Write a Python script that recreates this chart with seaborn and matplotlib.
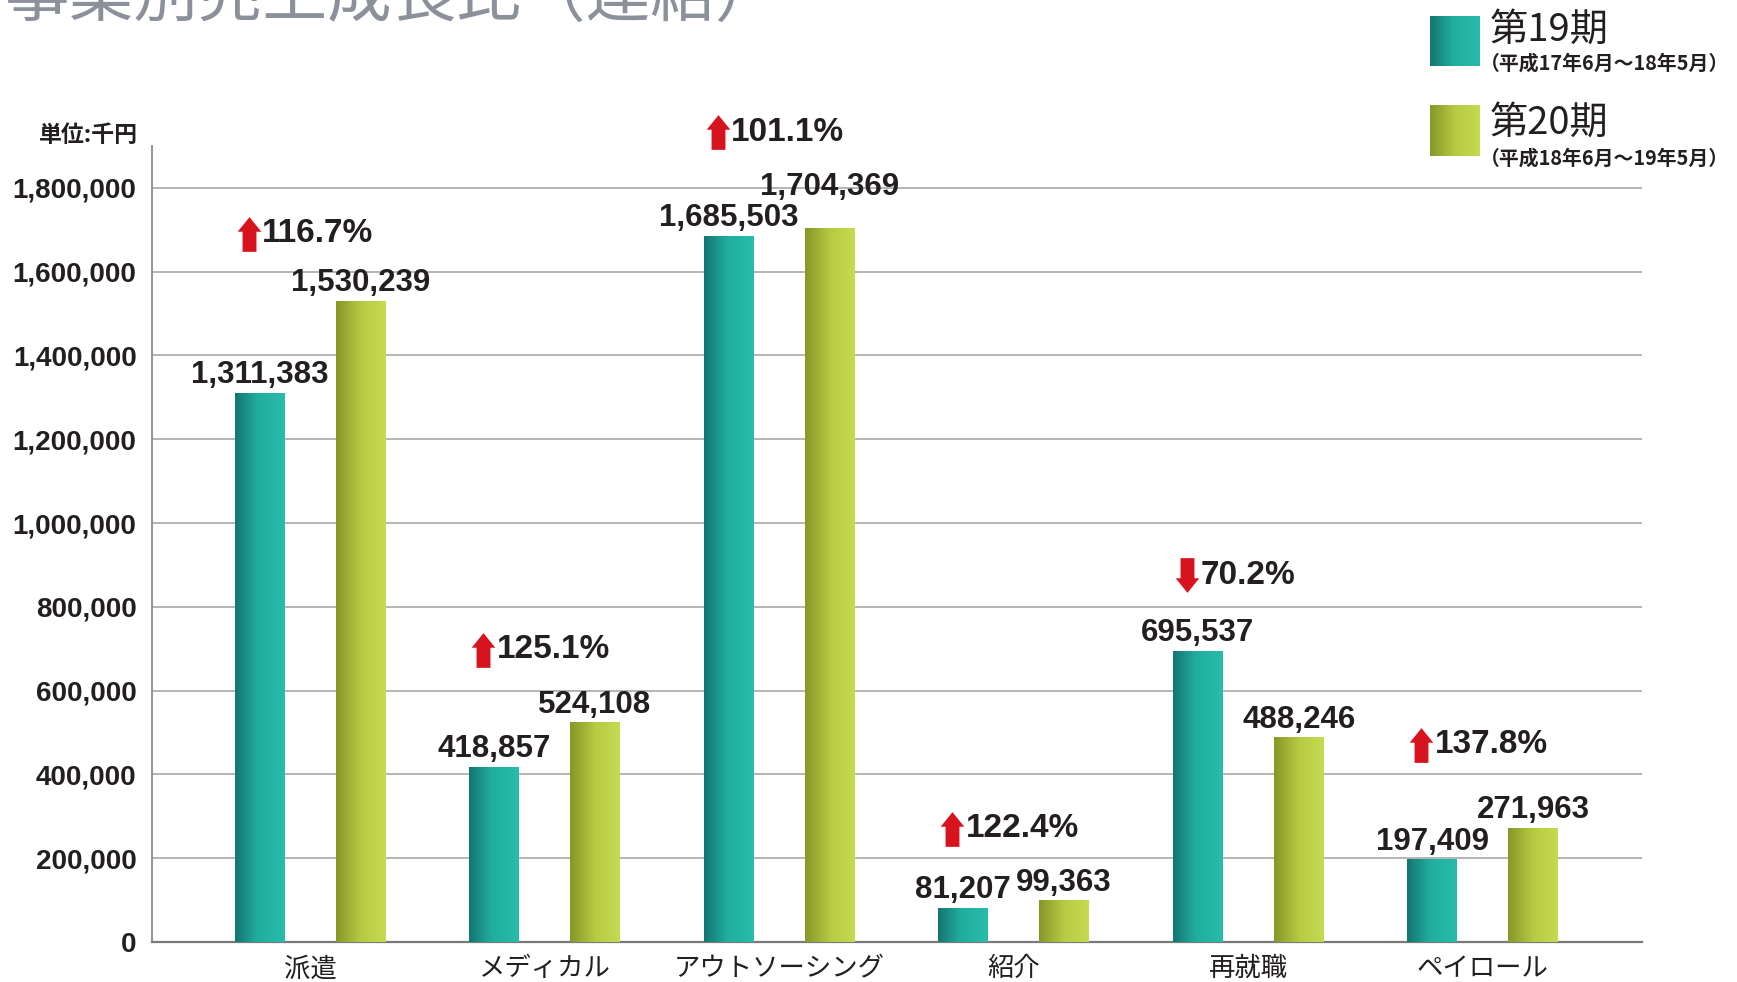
import numpy as np
import pandas as pd
import matplotlib
matplotlib.use("Agg")
import matplotlib.pyplot as plt
import seaborn as sns
from matplotlib.colors import LinearSegmentedColormap
from matplotlib.ticker import FuncFormatter
from matplotlib.path import Path

# ---------------- data ----------------
title = "事業別売上成長比（連結）"
unit_label = "単位:千円"
categories = ["派遣", "メディカル", "アウトソーシング", "紹介", "再就職", "ペイロール"]
periods = ["第19期", "第20期"]
period_notes = ["（平成17年6月〜18年5月）", "（平成18年6月〜19年5月）"]
values_19 = [1311383, 418857, 1685503, 81207, 695537, 197409]
values_20 = [1530239, 524108, 1704369, 99363, 488246, 271963]
y_ticks = [0, 200000, 400000, 600000, 800000, 1000000, 1200000, 1400000, 1600000, 1800000]

# ---------------- style ----------------
sns.set_style("white")
plt.rcParams['font.family'] = ['Liberation Sans', 'Noto Sans CJK JP', 'DejaVu Sans']
TXT = "#231f20"
TEAL = "#22b2a2"
GREEN = "#c0d44a"
RED = "#d7141e"
cmap_teal = LinearSegmentedColormap.from_list("t", [(0, "#137570"), (0.45, "#21ad9e"), (1, "#27bcab")])
cmap_green = LinearSegmentedColormap.from_list("g", [(0, "#879628"), (0.5, "#b6ca44"), (1, "#c6db4f")])

df = pd.DataFrame({
    "category": categories * 2,
    "period": [periods[0]] * len(categories) + [periods[1]] * len(categories),
    "value": values_19 + values_20,
})

fig = plt.figure(figsize=(17.37, 9.82), dpi=100)
ax = fig.add_axes([0.0874, 0.0407, 0.8578, 0.8106])

sns.barplot(data=df, x="category", y="value", hue="period", order=categories,
            hue_order=periods, palette=[TEAL, GREEN], saturation=1, width=0.86, gap=0.506,
            linewidth=0, legend=False, ax=ax, zorder=3)

# gradient fill on each bar (patches come in hue order)
grad = np.linspace(0, 1, 256).reshape(1, -1)
bars = [p for p in ax.patches if p.get_height() > 0]
n = len(categories)
for k, p in enumerate(bars):
    cm = cmap_teal if k < n else cmap_green
    x0, y0, w, h = p.get_x(), p.get_y(), p.get_width(), p.get_height()
    im = ax.imshow(grad, extent=[x0, x0 + w, y0, y0 + h], cmap=cm, aspect="auto",
                   interpolation="bicubic", zorder=4)
    im.set_clip_path(p)

ax.set_xlim(-0.675, len(categories) - 1 + 0.678)
ax.set_ylim(0, 1900000)

# axes styling
ax.set_axisbelow(True)
ax.yaxis.grid(True, color="#a8a8a8", lw=1.2)
ax.xaxis.grid(False)
for s in ["top", "right"]:
    ax.spines[s].set_visible(False)
ax.spines["left"].set_color("#8a8a8a")
ax.spines["left"].set_linewidth(1.3)
ax.spines["bottom"].set_color("#7a7a7a")
ax.spines["bottom"].set_linewidth(1.6)
ax.set_xlabel("")
ax.set_ylabel("")
ax.set_yticks(y_ticks)
ax.yaxis.set_major_formatter(FuncFormatter(lambda v, p: f"{int(v):,}"))
ax.tick_params(axis="y", length=0, pad=11, labelsize=20, labelcolor=TXT)
ax.tick_params(axis="x", length=0, pad=9.5, labelsize=19, labelcolor=TXT)
for lbl in ax.get_yticklabels():
    lbl.set_fontweight("bold")
for lbl in ax.get_xticklabels():
    lbl.set_family(["Noto Sans CJK JP"])

# value labels
extra_label_pts = {(2, 1): 17}
for j, vals in enumerate([values_19, values_20]):
    for i, v in enumerate(vals):
        xpos = i + (j - 0.5) * 0.43
        ax.annotate(f"{v:,}", xy=(xpos, v), xytext=(0, 2 + extra_label_pts.get((i, j), 0)),
                    textcoords="offset points", ha="center", va="bottom",
                    fontsize=22.5, fontweight="bold", color=TXT, zorder=6)

# growth ratio annotations
def arrow_path(up=True):
    s = 1 if up else -1
    verts = [(-0.34, 0.08), (0, 0.5), (0.34, 0.08), (0.2, 0.08), (0.2, -0.5),
             (-0.2, -0.5), (-0.2, 0.08), (-0.34, 0.08)]
    verts = [(x, s * y) for x, y in verts]
    codes = [Path.MOVETO] + [Path.LINETO] * 6 + [Path.CLOSEPOLY]
    return Path(verts, codes)

pct_offsets = [160000, 173000, 228000, 171000, 180000, 199000]
for i, (a, b) in enumerate(zip(values_19, values_20)):
    ratio = b / a
    y = max(a, b) + pct_offsets[i]
    ax.plot(i - 0.262, y, marker=arrow_path(ratio >= 1), ms=25, mew=0, color=RED,
            clip_on=False, zorder=6)
    ax.text(i - 0.205, y, f"{ratio * 100:.1f}%", ha="left", va="center",
            fontsize=24, fontweight="bold", color=TXT, clip_on=False, zorder=6)

# unit label
fig.text(138 / 1737, 1 - 136 / 982, unit_label, ha="right", va="center",
         fontsize=16.5, fontweight="bold", color=TXT, family=["Noto Sans CJK JP"])

# title (cropped at top as in reference)
fig.text(5 / 1737, 1 - 16 / 982, title, ha="left", va="baseline", fontsize=46.5,
         color="#8c909a", family=["Noto Sans CJK JP"])

# legend
leg_cmaps = [cmap_teal, cmap_green]
sq_bottoms = [1 - 66.5 / 982, 1 - 156 / 982]
main_y = [1 - 30 / 982, 1 - 123 / 982]
note_y = [1 - 63 / 982, 1 - 158 / 982]
for k in range(2):
    lax = fig.add_axes([1430 / 1737, sq_bottoms[k], 50 / 1737, 51 / 982])
    lax.imshow(grad, cmap=leg_cmaps[k], aspect="auto", interpolation="bicubic")
    lax.set_axis_off()
    fig.text(1490 / 1737, main_y[k], periods[k], ha="left", va="center",
             fontsize=27.5, color=TXT, family=["Noto Sans CJK JP"])
    fig.text(1480 / 1737, note_y[k], period_notes[k], ha="left", va="center",
             fontsize=14.3, fontweight="bold", color=TXT, family=["Noto Sans CJK JP"])

fig.savefig("out.png", dpi=100, facecolor="white")
